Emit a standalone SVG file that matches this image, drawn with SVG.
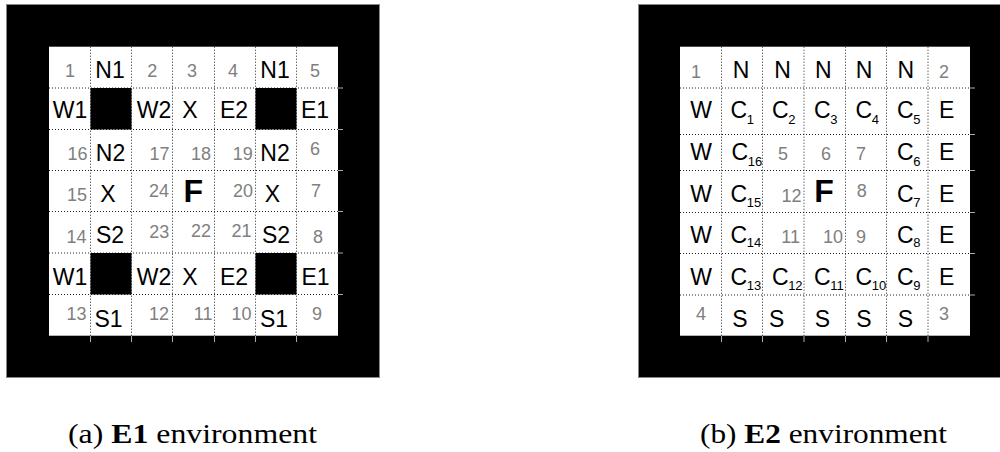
<svg xmlns="http://www.w3.org/2000/svg" width="1000" height="452" viewBox="0 0 1000 452">
<style>
.frame{fill:#000;stroke:#888;stroke-width:1}
.field{fill:#fff}
.blk{fill:#000}
.grid line{stroke:#222;stroke-width:1;stroke-dasharray:1 2}
.ticks line{stroke:#aaa;stroke-width:1}
text{font-family:"Liberation Sans",Arial,sans-serif}
.lab{font-size:23px;fill:#000;text-anchor:middle}
.num{font-size:18px;fill:#808080;text-anchor:middle}
.numr{font-size:18px;fill:#808080;text-anchor:end}
.f{font-size:32px;font-weight:bold;fill:#000;text-anchor:middle}
.c{font-size:23px;fill:#000}
.sub{font-size:13px}
.cap{font-family:"Liberation Serif","Times New Roman",serif;font-size:28px;fill:#000}
</style>

<g id="panel-a">
  <rect class="frame" x="6.5" y="4.5" width="373" height="373"/>
  <rect class="field" x="49" y="46.7" width="289" height="289"/>
  <g class="grid">
    <line x1="90.5" y1="46.7" x2="90.5" y2="336"/>
    <line x1="131.5" y1="46.7" x2="131.5" y2="336"/>
    <line x1="172.5" y1="46.7" x2="172.5" y2="336"/>
    <line x1="214.5" y1="46.7" x2="214.5" y2="336"/>
    <line x1="255.5" y1="46.7" x2="255.5" y2="336"/>
    <line x1="296.5" y1="46.7" x2="296.5" y2="336"/>
    <line x1="49" y1="88" x2="338" y2="88"/>
    <line x1="49" y1="129.5" x2="338" y2="129.5"/>
    <line x1="49" y1="170.5" x2="338" y2="170.5"/>
    <line x1="49" y1="211.5" x2="338" y2="211.5"/>
    <line x1="49" y1="253" x2="338" y2="253"/>
    <line x1="49" y1="294.5" x2="338" y2="294.5"/>
  </g>
  <g class="ticks">
    <line x1="90.5" y1="336" x2="90.5" y2="342"/>
    <line x1="131.5" y1="336" x2="131.5" y2="342"/>
    <line x1="172.5" y1="336" x2="172.5" y2="342"/>
    <line x1="214.5" y1="336" x2="214.5" y2="342"/>
    <line x1="255.5" y1="336" x2="255.5" y2="342"/>
    <line x1="296.5" y1="336" x2="296.5" y2="342"/>
    <line x1="338" y1="88" x2="343" y2="88"/>
    <line x1="338" y1="129.5" x2="343" y2="129.5"/>
    <line x1="338" y1="170.5" x2="343" y2="170.5"/>
    <line x1="338" y1="211.5" x2="343" y2="211.5"/>
    <line x1="338" y1="253" x2="343" y2="253"/>
    <line x1="338" y1="294.5" x2="343" y2="294.5"/>
  </g>
  <g id="a-walls">
    <rect class="blk" x="90.5" y="88" width="41" height="41.5"/>
    <rect class="blk" x="255.5" y="88" width="41" height="41.5"/>
    <rect class="blk" x="90.5" y="253" width="41" height="41.5"/>
    <rect class="blk" x="255.5" y="253" width="41" height="41.5"/>
  </g>
  <g id="a-row0">
    <text class="num" x="70" y="77">1</text>
    <text class="lab" x="110" y="78">N1</text>
    <text class="num" x="152.3" y="77">2</text>
    <text class="num" x="192" y="77">3</text>
    <text class="num" x="233" y="77">4</text>
    <text class="lab" x="275" y="78">N1</text>
    <text class="num" x="315" y="77">5</text>
  </g>
  <g id="a-row1">
    <text class="lab" x="70" y="118">W1</text>
    <text class="lab" x="154" y="118">W2</text>
    <text class="lab" x="190" y="118">X</text>
    <text class="lab" x="234" y="118">E2</text>
    <text class="lab" x="315" y="118">E1</text>
  </g>
  <g id="a-row2">
    <text class="numr" x="87.5" y="160">16</text>
    <text class="lab" x="110.5" y="160.7">N2</text>
    <text class="numr" x="169.5" y="160">17</text>
    <text class="numr" x="211" y="160">18</text>
    <text class="numr" x="252.7" y="160">19</text>
    <text class="lab" x="275" y="160.7">N2</text>
    <text class="num" x="315" y="155">6</text>
  </g>
  <g id="a-row3">
    <text class="numr" x="87" y="201">15</text>
    <text class="lab" x="108" y="201.7">X</text>
    <text class="numr" x="169" y="197">24</text>
    <text class="f" x="193.3" y="201.7">F</text>
    <text class="numr" x="253" y="197">20</text>
    <text class="lab" x="272.5" y="201.7">X</text>
    <text class="num" x="316" y="197">7</text>
  </g>
  <g id="a-row4">
    <text class="numr" x="86.5" y="243">14</text>
    <text class="lab" x="110" y="243">S2</text>
    <text class="numr" x="169.3" y="238">23</text>
    <text class="numr" x="211" y="237">22</text>
    <text class="numr" x="251.5" y="237">21</text>
    <text class="lab" x="276" y="243">S2</text>
    <text class="num" x="318" y="243">8</text>
  </g>
  <g id="a-row5">
    <text class="lab" x="70" y="285">W1</text>
    <text class="lab" x="154" y="285">W2</text>
    <text class="lab" x="190" y="285">X</text>
    <text class="lab" x="234" y="285">E2</text>
    <text class="lab" x="315.5" y="285">E1</text>
  </g>
  <g id="a-row6">
    <text class="numr" x="86.5" y="320">13</text>
    <text class="lab" x="108.5" y="326.7">S1</text>
    <text class="numr" x="169" y="320">12</text>
    <text class="numr" x="212.5" y="320">11</text>
    <text class="numr" x="251.5" y="320">10</text>
    <text class="lab" x="274" y="326.7">S1</text>
    <text class="num" x="317" y="320">9</text>
  </g>
  <text id="caption-a" class="cap" x="68" y="443" textLength="249" lengthAdjust="spacingAndGlyphs">(a) <tspan font-weight="bold">E1</tspan> environment</text>
</g>

<g id="panel-b">
  <rect class="frame" x="638.5" y="4.5" width="373" height="373"/>
  <rect class="field" x="680" y="46.7" width="290" height="289"/>
  <g class="grid">
    <line x1="721.5" y1="46.7" x2="721.5" y2="336"/>
    <line x1="762.5" y1="46.7" x2="762.5" y2="336"/>
    <line x1="804" y1="46.7" x2="804" y2="336"/>
    <line x1="845.5" y1="46.7" x2="845.5" y2="336"/>
    <line x1="886.5" y1="46.7" x2="886.5" y2="336"/>
    <line x1="928" y1="46.7" x2="928" y2="336"/>
    <line x1="680" y1="88" x2="970" y2="88"/>
    <line x1="680" y1="134.5" x2="970" y2="134.5"/>
    <line x1="680" y1="170.5" x2="970" y2="170.5"/>
    <line x1="680" y1="212.5" x2="970" y2="212.5"/>
    <line x1="680" y1="253.5" x2="970" y2="253.5"/>
    <line x1="680" y1="295" x2="970" y2="295"/>
  </g>
  <g class="ticks">
    <line x1="721.5" y1="336" x2="721.5" y2="342"/>
    <line x1="762.5" y1="336" x2="762.5" y2="342"/>
    <line x1="804" y1="336" x2="804" y2="342"/>
    <line x1="845.5" y1="336" x2="845.5" y2="342"/>
    <line x1="886.5" y1="336" x2="886.5" y2="342"/>
    <line x1="928" y1="336" x2="928" y2="342"/>
    <line x1="970" y1="88" x2="975" y2="88"/>
    <line x1="970" y1="134.5" x2="975" y2="134.5"/>
    <line x1="970" y1="170.5" x2="975" y2="170.5"/>
    <line x1="970" y1="212.5" x2="975" y2="212.5"/>
    <line x1="970" y1="253.5" x2="975" y2="253.5"/>
    <line x1="970" y1="295" x2="975" y2="295"/>
  </g>
  <g id="b-row0">
    <text class="num" x="696" y="78">1</text>
    <text class="lab" x="741" y="78">N</text>
    <text class="lab" x="782.5" y="78">N</text>
    <text class="lab" x="823.3" y="78">N</text>
    <text class="lab" x="864" y="78">N</text>
    <text class="lab" x="905.8" y="78">N</text>
    <text class="num" x="944" y="78">2</text>
  </g>
  <g id="b-row1">
    <text class="lab" x="701" y="118.3">W</text>
    <text class="c" x="730.6" y="118.3">C<tspan class="sub" dx="-0.5" dy="6">1</tspan></text>
    <text class="c" x="772" y="118.3">C<tspan class="sub" dx="-0.5" dy="6">2</tspan></text>
    <text class="c" x="814" y="118.3">C<tspan class="sub" dx="-0.5" dy="6">3</tspan></text>
    <text class="c" x="855.6" y="118.3">C<tspan class="sub" dx="-0.5" dy="6">4</tspan></text>
    <text class="c" x="897" y="118.3">C<tspan class="sub" dx="-0.5" dy="6">5</tspan></text>
    <text class="lab" x="946.7" y="118.3">E</text>
  </g>
  <g id="b-row2">
    <text class="lab" x="701" y="160">W</text>
    <text class="c" x="731.6" y="160">C<tspan class="sub" dx="-0.5" dy="6">16</tspan></text>
    <text class="num" x="783" y="160">5</text>
    <text class="num" x="826" y="160">6</text>
    <text class="num" x="861" y="160">7</text>
    <text class="c" x="897" y="160">C<tspan class="sub" dx="-0.5" dy="6">6</tspan></text>
    <text class="lab" x="946.7" y="160">E</text>
  </g>
  <g id="b-row3">
    <text class="lab" x="701" y="201.7">W</text>
    <text class="c" x="730.6" y="201.7">C<tspan class="sub" dx="-0.5" dy="5">15</tspan></text>
    <text class="numr" x="801.5" y="201.7">12</text>
    <text class="f" x="824" y="201.7">F</text>
    <text class="num" x="861.7" y="196.7">8</text>
    <text class="c" x="897" y="201.7">C<tspan class="sub" dx="-0.5" dy="5">7</tspan></text>
    <text class="lab" x="946.7" y="201.7">E</text>
  </g>
  <g id="b-row4">
    <text class="lab" x="701" y="243.3">W</text>
    <text class="c" x="730.6" y="243.3">C<tspan class="sub" dx="-0.5" dy="4">14</tspan></text>
    <text class="numr" x="800" y="243.3">11</text>
    <text class="numr" x="843" y="243.3">10</text>
    <text class="num" x="861" y="243.3">9</text>
    <text class="c" x="897" y="243.3">C<tspan class="sub" dx="-0.5" dy="4">8</tspan></text>
    <text class="lab" x="946.7" y="243.3">E</text>
  </g>
  <g id="b-row5">
    <text class="lab" x="701" y="285">W</text>
    <text class="c" x="730.6" y="285">C<tspan class="sub" dx="-0.5" dy="5">13</tspan></text>
    <text class="c" x="772" y="285">C<tspan class="sub" dx="-0.5" dy="5">12</tspan></text>
    <text class="c" x="814" y="285">C<tspan class="sub" dx="-0.5" dy="5">11</tspan></text>
    <text class="c" x="855.6" y="285">C<tspan class="sub" dx="-0.5" dy="5">10</tspan></text>
    <text class="c" x="897" y="285">C<tspan class="sub" dx="-0.5" dy="5">9</tspan></text>
    <text class="lab" x="946.7" y="285">E</text>
  </g>
  <g id="b-row6">
    <text class="num" x="701" y="320">4</text>
    <text class="lab" x="740" y="326.7">S</text>
    <text class="lab" x="776.7" y="326.7">S</text>
    <text class="lab" x="822.5" y="326.7">S</text>
    <text class="lab" x="864" y="326.7">S</text>
    <text class="lab" x="905.5" y="326.7">S</text>
    <text class="num" x="944" y="320">3</text>
  </g>
  <text id="caption-b" class="cap" x="700" y="443" textLength="247" lengthAdjust="spacingAndGlyphs">(b) <tspan font-weight="bold">E2</tspan> environment</text>
</g>
</svg>
